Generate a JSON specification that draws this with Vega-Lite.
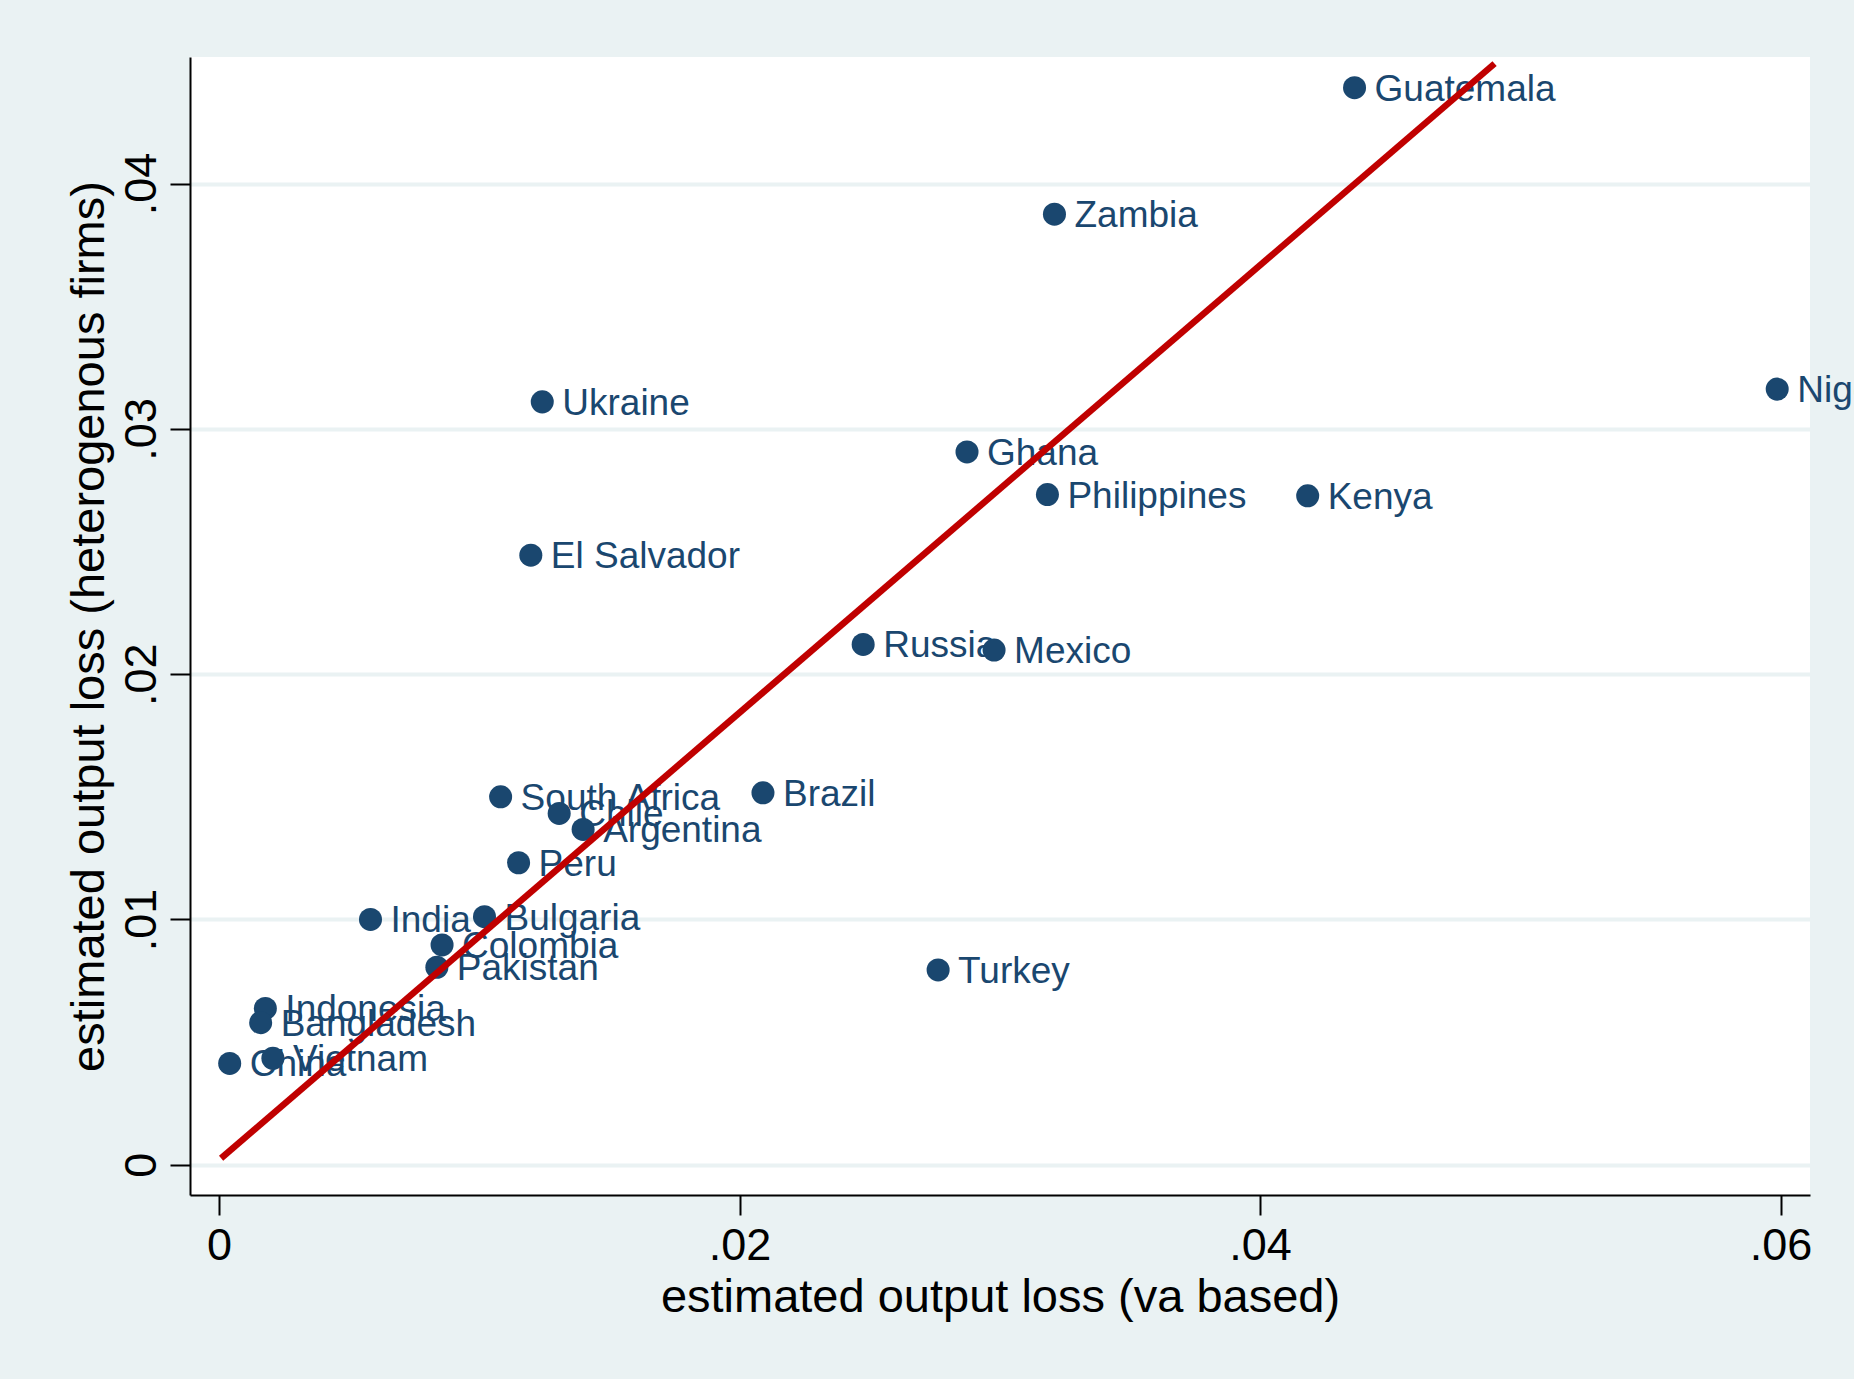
{
  "$schema": "https://vega.github.io/schema/vega-lite/v6.json",
  "autosize": {"type": "none"},
  "width": 1620,
  "height": 1138,
  "padding": {"left": 190, "top": 57, "right": 44, "bottom": 184},
  "background": "#eaf2f3",
  "config": {
    "view": {"stroke": null, "fill": "white"},
    "font": "Liberation Sans",
    "axis": {
      "domainColor": "black",
      "domainWidth": 2,
      "tickColor": "black",
      "tickWidth": 2,
      "tickSize": 20,
      "labelFont": "Liberation Sans",
      "labelFontSize": 45,
      "labelColor": "black",
      "titleFont": "Liberation Sans",
      "titleFontSize": 47,
      "titleFontWeight": "normal",
      "titleColor": "black"
    }
  },
  "datasets": {
    "countries": [
      {"country": "Guatemala", "va": 0.04363, "het": 0.04391},
      {"country": "Zambia", "va": 0.03210, "het": 0.03875},
      {"country": "Ukraine", "va": 0.01242, "het": 0.03110},
      {"country": "Nigeria", "va": 0.05987, "het": 0.03162},
      {"country": "Ghana", "va": 0.02874, "het": 0.02906},
      {"country": "Philippines", "va": 0.03183, "het": 0.02732},
      {"country": "Kenya", "va": 0.04183, "het": 0.02727},
      {"country": "El Salvador", "va": 0.01198, "het": 0.02485},
      {"country": "Russia", "va": 0.02475, "het": 0.02121},
      {"country": "Mexico", "va": 0.02978, "het": 0.02098},
      {"country": "South Africa", "va": 0.01082, "het": 0.01500},
      {"country": "Brazil", "va": 0.02090, "het": 0.01516},
      {"country": "Chile", "va": 0.01307, "het": 0.01432},
      {"country": "Argentina", "va": 0.01399, "het": 0.01367},
      {"country": "Peru", "va": 0.01151, "het": 0.01231},
      {"country": "India", "va": 0.00582, "het": 0.01000},
      {"country": "Bulgaria", "va": 0.01020, "het": 0.01011},
      {"country": "Colombia", "va": 0.00857, "het": 0.00896},
      {"country": "Pakistan", "va": 0.00837, "het": 0.00805},
      {"country": "Turkey", "va": 0.02763, "het": 0.00794},
      {"country": "Indonesia", "va": 0.00178, "het": 0.00637},
      {"country": "Bangladesh", "va": 0.00160, "het": 0.00579},
      {"country": "Vietnam", "va": 0.00207, "het": 0.00434},
      {"country": "China", "va": 0.00041, "het": 0.00413}
    ],
    "fit": [
      {"va": 0.00008, "het": 0.00026},
      {"va": 0.04901, "het": 0.04489}
    ]
  },
  "encoding": {
    "x": {
      "field": "va",
      "type": "quantitative",
      "title": "estimated output loss (va based)",
      "scale": {"domain": [-0.001115, 0.06113], "nice": false, "zero": false},
      "axis": {
        "values": [0, 0.02, 0.04, 0.06],
        "grid": false,
        "labelPadding": 8,
        "titlePadding": 6,
        "labelExpr": "datum.value == 0 ? '0' : replace(format(datum.value, '.2f'), '0.', '.')"
      }
    },
    "y": {
      "field": "het",
      "type": "quantitative",
      "title": "estimated output loss (heterogenous firms)",
      "scale": {"domain": [-0.001235, 0.04516], "nice": false, "zero": false},
      "axis": {
        "values": [0, 0.01, 0.02, 0.03, 0.04],
        "grid": true,
        "gridColor": "#eaf2f3",
        "gridWidth": 4,
        "labelAngle": -90,
        "labelAlign": "center",
        "labelBaseline": "bottom",
        "labelPadding": 6,
        "titlePadding": 6,
        "labelExpr": "datum.value == 0 ? '0' : replace(format(datum.value, '.2f'), '0.', '.')"
      }
    }
  },
  "layer": [
    {
      "data": {"name": "countries"},
      "mark": {"type": "point", "shape": "circle", "filled": true, "opacity": 1, "size": 530, "color": "#1a476f"}
    },
    {
      "data": {"name": "countries"},
      "mark": {"type": "text", "align": "left", "baseline": "alphabetic", "dx": 20, "dy": 13, "fontSize": 37, "font": "Liberation Sans", "color": "#1a476f"},
      "encoding": {"text": {"field": "country"}}
    },
    {
      "data": {"name": "fit"},
      "mark": {"type": "line", "color": "#c00000", "strokeWidth": 6.5},
      "encoding": {}
    }
  ]
}
